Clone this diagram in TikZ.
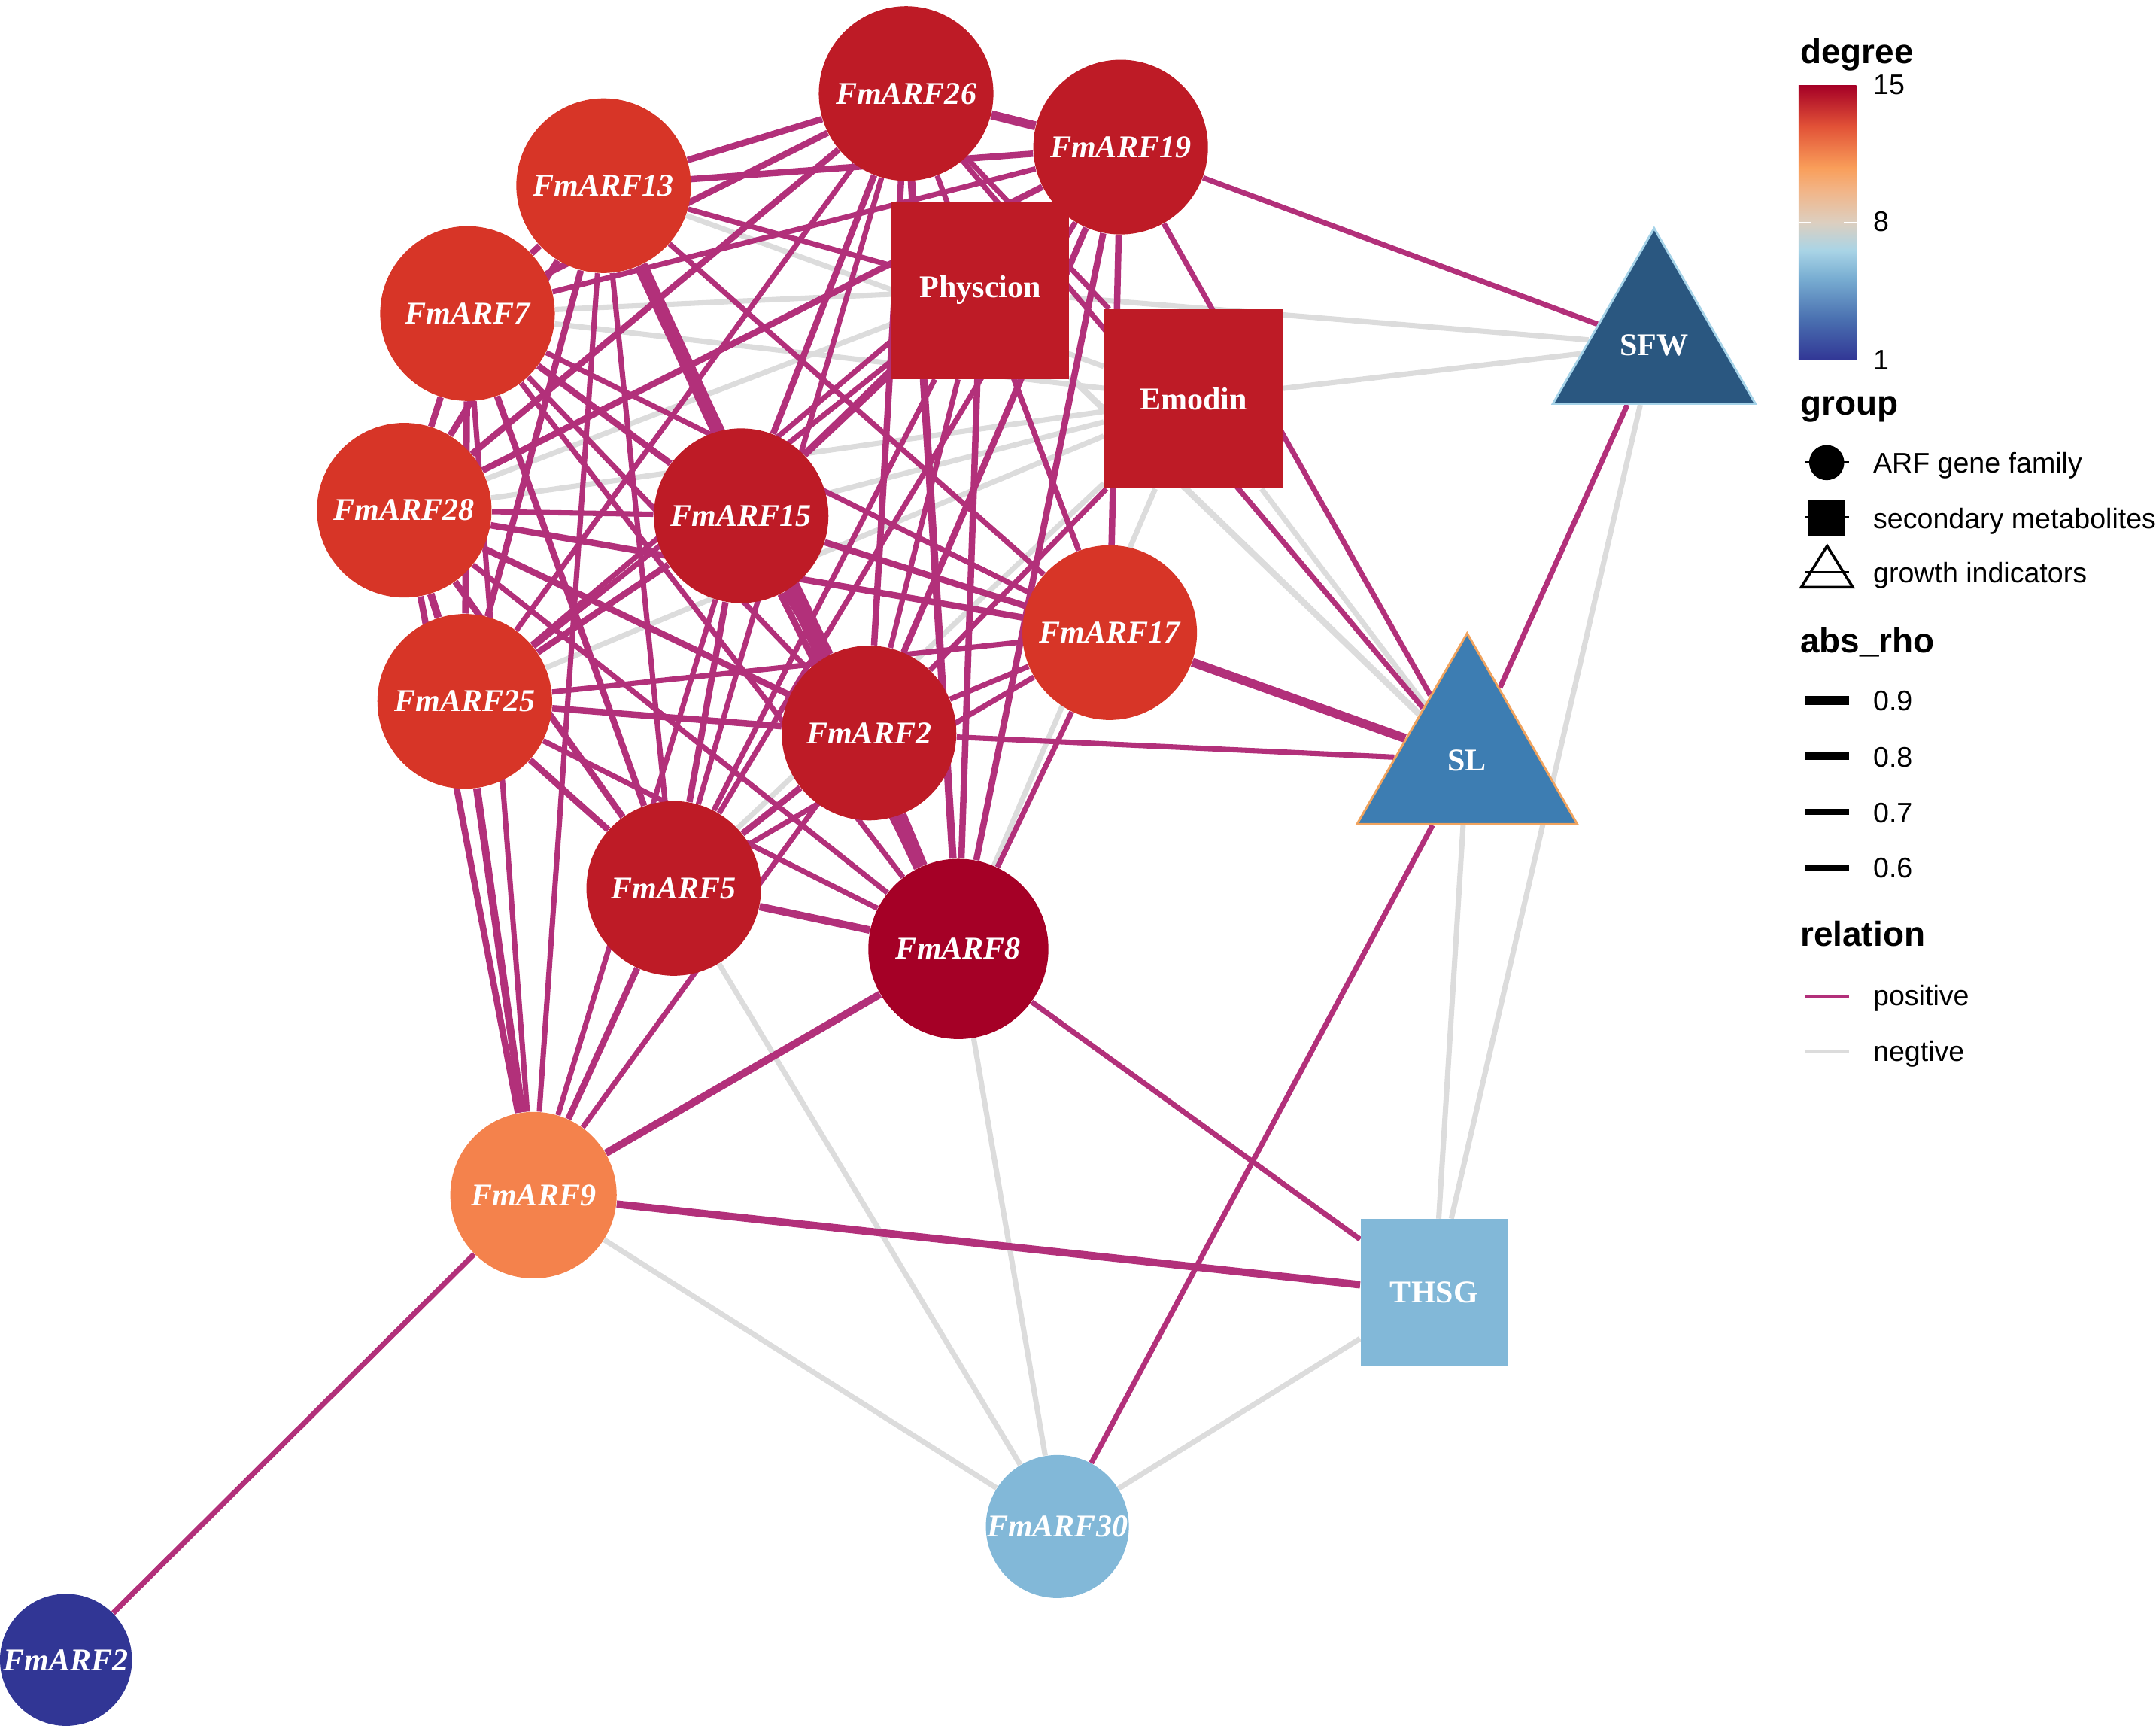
\documentclass[tikz,border=0pt]{standalone}
\usepackage{fontspec}
\setmainfont{Liberation Sans}
\newfontfamily\genefont{Liberation Serif}
\usetikzlibrary{shapes.geometric,backgrounds}
\def\px{0.02cm}
\newcommand\nodefont{\genefont\bfseries\fontsize{13.1}{15}\selectfont}
\definecolor{deg15}{HTML}{A50026}
\definecolor{deg14}{HTML}{BE1B26}
\definecolor{deg13}{HTML}{D73527}
\definecolor{deg11}{HTML}{F4824C}
\definecolor{deg5}{HTML}{82B8D8}
\definecolor{deg1}{HTML}{313695}
\definecolor{sfwfill}{HTML}{2A5780}
\definecolor{sfwline}{HTML}{A6D3E8}
\definecolor{slfill}{HTML}{3D7DB2}
\definecolor{slline}{HTML}{F0A35E}
\definecolor{posedge}{HTML}{B2307A}
\definecolor{negedge}{HTML}{DCDCDC}
\definecolor{bar2}{HTML}{4A70B0}
\definecolor{bar3}{HTML}{79AED2}
\definecolor{bar4}{HTML}{A9D4E6}
\definecolor{bar5}{HTML}{DCCFC0}
\definecolor{bar6}{HTML}{F2B486}
\definecolor{bar7}{HTML}{F99E5A}
\definecolor{bar8}{HTML}{E25237}
\pgfdeclareverticalshading{degbar}{100bp}{color(0bp)=(deg1); color(25bp)=(deg1);
  color(32.5bp)=(bar2); color(40bp)=(bar3); color(45bp)=(bar4); color(50bp)=(bar5);
  color(56bp)=(bar6); color(60bp)=(bar7); color(67.5bp)=(bar8); color(75bp)=(deg15);
  color(100bp)=(deg15)}

\begin{document}
\begin{tikzpicture}[x=\px,y=-\px]
    \tikzstyle{gene}=[circle,inner sep=0pt,minimum size=127*\px,text=white,font=\nodefont\itshape]
    \tikzstyle{metab}=[rectangle,inner sep=0pt,minimum size=129*\px,text=white,font=\nodefont]
    \tikzstyle{growth}=[regular polygon,regular polygon sides=3,inner sep=0pt,text=white,font=\nodefont,line width=0.9pt]
    \tikzstyle{posrel}=[draw=posedge]
    \tikzstyle{negrel}=[draw=negedge]
    \tikzstyle{r6}=[line width=2.2pt]
    \tikzstyle{r7}=[line width=2.65pt]
    \tikzstyle{r8}=[line width=3.1pt]
    \tikzstyle{r9}=[line width=3.7pt]
    \tikzstyle{rmax}=[line width=5.7pt]
    \tikzstyle{legtitle}=[anchor=base west,inner sep=0pt,font=\bfseries\fontsize{14.3}{17}\selectfont]
    \tikzstyle{lab}=[anchor=base west,inner sep=0pt,font=\fontsize{11.7}{14}\selectfont]

    \useasboundingbox (0,0) rectangle (1568,1257);

    % ARF gene family
    \node[gene,fill=deg14] (A-26) at (659,68) {FmARF26};
    \node[gene,fill=deg14] (A-19) at (815,107) {FmARF19};
    \node[gene,fill=deg13] (A-13) at (439,135) {FmARF13};
    \node[gene,fill=deg13] (A-7) at (340,228) {FmARF7};
    \node[gene,fill=deg13] (A-28) at (294,371) {FmARF28};
    \node[gene,fill=deg14] (A-15) at (539,375) {FmARF15};
    \node[gene,fill=deg13] (A-25) at (338,510) {FmARF25};
    \node[gene,fill=deg14] (A-2) at (632,533) {FmARF2};
    \node[gene,fill=deg13] (A-17) at (807,460) {FmARF17};
    \node[gene,fill=deg14] (A-5) at (490,646) {FmARF5};
    \node[gene,fill=deg15,minimum size=131*\px] (A-8) at (697,690) {FmARF8};
    \node[gene,fill=deg11,minimum size=121*\px] (A-9) at (388,869) {FmARF9};
    \node[gene,fill=deg5,minimum size=104*\px] (A-30) at (769,1110) {FmARF30};
    \node[gene,fill=deg1,minimum size=96*\px] (A-2b) at (48,1207) {FmARF2};

    % secondary metabolites
    \node[metab,fill=deg14] (M-phy) at (713,211) {Physcion};
    \node[metab,fill=deg14,minimum size=130*\px] (M-emo) at (868,290) {Emodin};
    \node[metab,fill=deg5,minimum size=107*\px] (M-thsg) at (1043,940) {THSG};

    % growth indicators
    \node[growth,fill=sfwfill,draw=sfwline,minimum size=170*\px] (G-sfw) at (1203,251) {SFW};
    \node[growth,fill=slfill,draw=slline,minimum size=185*\px] (G-sl) at (1067,553) {SL};

    % Connect the nodes, negative first
    \begin{scope}[on background layer]
    \foreach \a/\b in {A-7/M-phy,A-7/M-emo,A-28/M-phy,A-28/M-emo,A-25/M-emo,A-13/M-emo,
        A-15/M-emo,A-5/M-emo,A-8/M-emo,M-phy/G-sfw,M-emo/G-sfw,M-emo/G-sl,M-thsg/G-sl,
        M-thsg/G-sfw,M-thsg/A-30,A-9/A-30,A-5/A-30,A-8/A-30}
        \draw[negrel,r6] (\a) -- (\b);
    \draw[negrel,r7] (M-phy) -- (G-sl);

    \foreach \a/\b in {A-26/A-25,A-26/A-5,A-26/A-17,A-26/M-emo,A-26/G-sl,A-19/A-7,A-19/A-25,
        A-19/A-5,A-19/M-phy,A-19/G-sfw,A-19/G-sl,A-13/A-2,A-13/A-5,A-13/A-17,A-13/M-phy,
        A-13/A-9,A-7/A-2,A-7/A-8,A-7/A-17,A-7/A-9,A-28/A-15,A-28/A-8,A-15/M-phy,A-15/A-9,
        A-25/A-8,A-25/A-17,A-25/M-phy,A-2/A-17,A-2/M-phy,A-2/M-emo,A-2/G-sl,A-2/A-9,A-17/A-5,
        A-17/A-8,A-17/M-phy,A-5/M-phy,A-8/M-thsg,A-9/A-2b,G-sl/G-sfw,G-sl/A-30}
        \draw[posrel,r6] (\a) -- (\b);
    \foreach \a/\b in {A-26/A-13,A-26/A-7,A-26/A-28,A-26/A-15,A-26/A-2,A-19/A-13,A-19/A-28,
        A-19/A-15,A-19/A-2,A-19/A-8,A-19/A-17,A-13/A-7,A-13/A-28,A-13/A-25,A-7/A-28,A-7/A-25,
        A-7/A-15,A-7/A-5,A-28/A-2,A-28/A-5,A-28/A-17,A-28/A-9,A-15/A-25,A-15/A-5,A-15/A-8,
        A-15/A-17,A-25/A-2,A-25/A-5,A-2/A-5,A-5/A-9,A-8/M-phy}
        \draw[posrel,r7] (\a) -- (\b);
    \foreach \a/\b in {A-26/A-8,A-28/A-25,A-15/A-2,A-25/A-9,A-2/A-8,A-5/A-8,A-8/A-9,A-9/M-thsg}
        \draw[posrel,r8] (\a) -- (\b);
    \foreach \a/\b in {A-26/A-19,A-17/G-sl}
        \draw[posrel,r9] (\a) -- (\b);
    \draw[posrel,rmax] (A-13) -- (A-8);
    \end{scope}

    % Legend: degree
    \node[legtitle] (t-deg) at (1309,46.5) {degree};
    \shade[shading=degbar] (1308,62) rectangle (1350,262);
    \draw[white,line width=0.8pt] (1308,162) -- (1317,162) (1341,162) -- (1350,162);
    \node[lab] (l-15) at (1362,68.5) {15};
    \node[lab] (l-8) at (1362,168.5) {8};
    \node[lab] (l-1) at (1362,269) {1};

    % Legend: group
    \node[legtitle] (t-grp) at (1309,301.5) {group};
    \draw[line width=0.9pt] (1312.5,336.4) -- (1344.7,336.4);
    \node[circle,fill=black,inner sep=0pt,minimum size=25.5*\px] (k-circ) at (1328.5,336.4) {};
    \draw[line width=0.9pt] (1312.5,376.3) -- (1344.7,376.3);
    \node[rectangle,fill=black,inner sep=0pt,minimum width=27*\px,minimum height=26.5*\px] (k-sq) at (1328.5,376.3) {};
    \draw[line width=1.1pt,line join=miter] (1310,427) -- (1328.8,397) -- (1347.5,427) -- cycle;
    \draw[line width=0.9pt] (1312.5,416) -- (1344.7,416);
    \node[lab] (l-arf) at (1362,344) {ARF gene family};
    \node[lab] (l-sec) at (1362,384.5) {secondary metabolites};
    \node[lab] (l-gro) at (1362,424) {growth indicators};

    % Legend: abs_rho
    \node[legtitle] (t-rho) at (1309,474.5) {abs\_rho};
    \foreach \w/\y/\v in {r9/509.4/0.9,r8/549.9/0.8,r7/590.4/0.7,r6/630.8/0.6}{
        \draw[\w] (1312.5,\y) -- (1344.7,\y);
        \node[lab] (l-\v) at (1362,\y+7.6) {\v};
    }

    % Legend: relation
    \node[legtitle] (t-rel) at (1309,688) {relation};
    \draw[posedge,line width=1.1pt] (1312.5,724.4) -- (1344.7,724.4);
    \draw[negedge,line width=1.1pt] (1312.5,764.3) -- (1344.7,764.3);
    \node[lab] (l-pos) at (1362,731) {positive};
    \node[lab] (l-neg) at (1362,771.5) {negtive};
\end{tikzpicture}
\end{document}
